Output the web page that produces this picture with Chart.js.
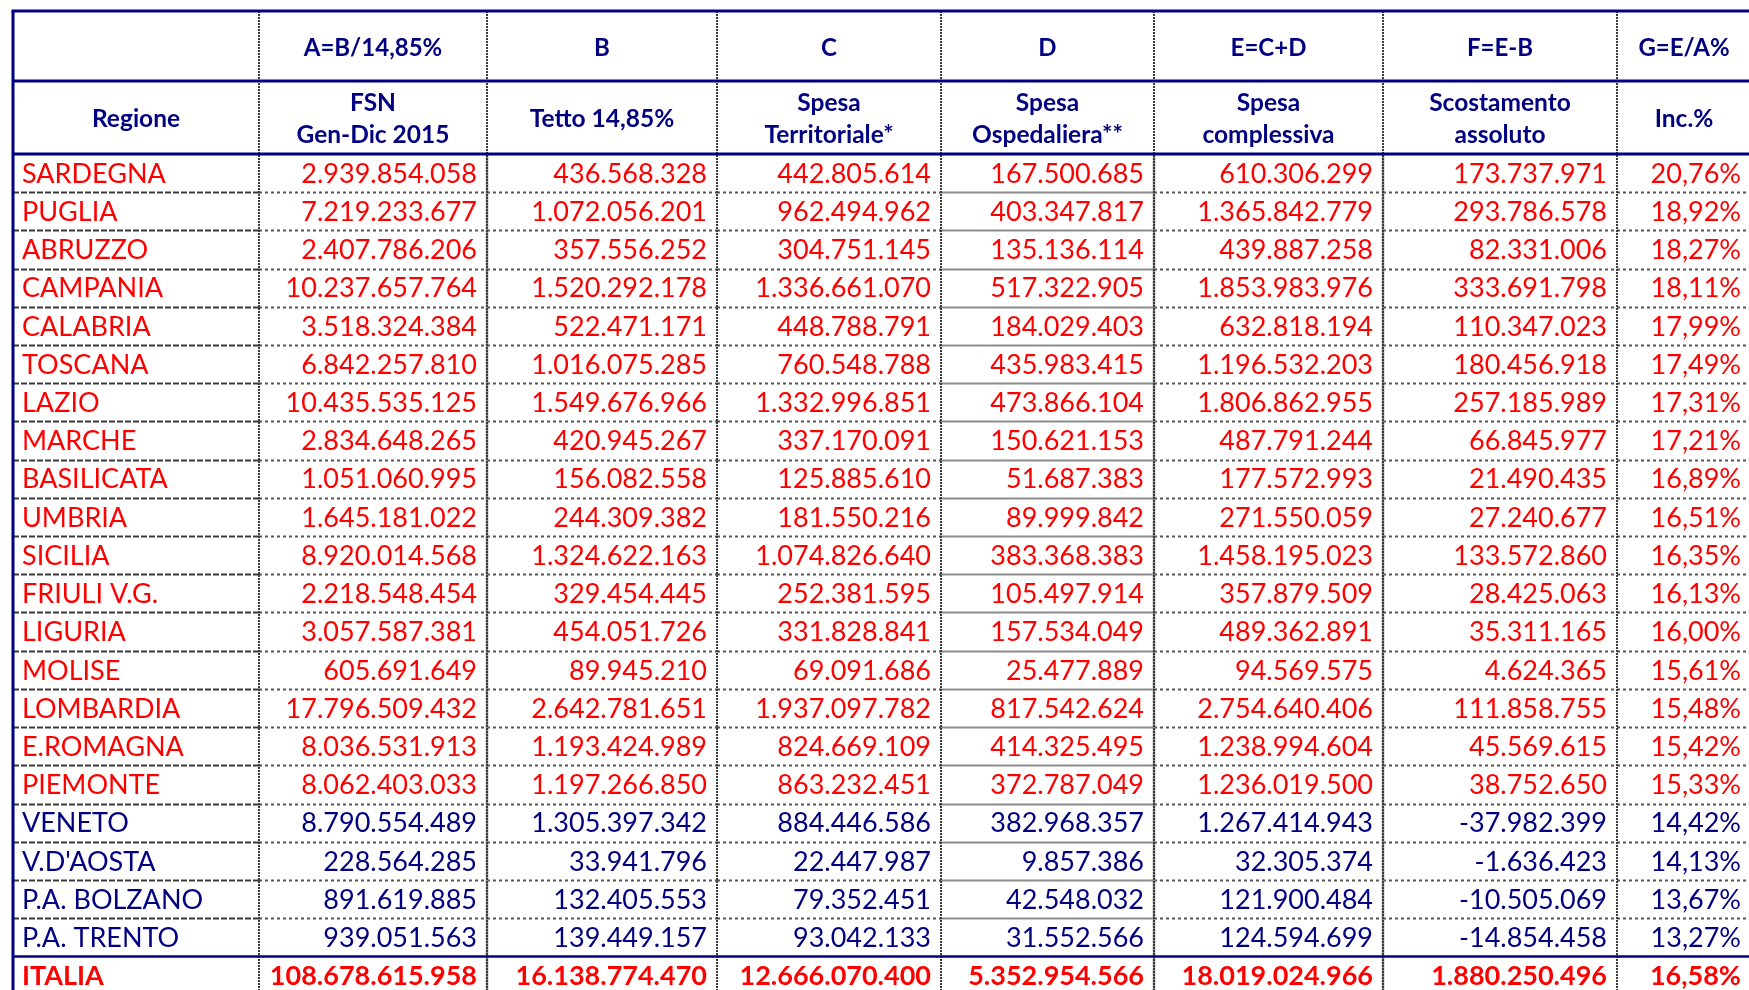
<!DOCTYPE html>
<html>
<head>
<meta charset="utf-8">
<script src="https://cdn.jsdelivr.net/npm/chart.js@4/dist/chart.umd.min.js"></script>
<style>
  body { margin: 0; background: #fff; }
  #wrap { width: 1749px; height: 990px; }
</style>
</head>
<body>
<div id="wrap"><canvas id="tabella" width="1749" height="990"></canvas></div>
<script>
// Spesa farmaceutica regionale - valori per regione (Gen-Dic 2015)

const regions = ['SARDEGNA', 'PUGLIA', 'ABRUZZO', 'CAMPANIA', 'CALABRIA', 'TOSCANA', 'LAZIO', 'MARCHE',
  'BASILICATA', 'UMBRIA', 'SICILIA', 'FRIULI V.G.', 'LIGURIA', 'MOLISE', 'LOMBARDIA', 'E.ROMAGNA',
  'PIEMONTE', 'VENETO', "V.D'AOSTA", 'P.A. BOLZANO', 'P.A. TRENTO', 'ITALIA'];

const fsn = [2939854058, 7219233677, 2407786206, 10237657764, 3518324384, 6842257810, 10435535125,
  2834648265, 1051060995, 1645181022, 8920014568, 2218548454, 3057587381, 605691649, 17796509432,
  8036531913, 8062403033, 8790554489, 228564285, 891619885, 939051563, 108678615958];

const tetto = [436568328, 1072056201, 357556252, 1520292178, 522471171, 1016075285, 1549676966,
  420945267, 156082558, 244309382, 1324622163, 329454445, 454051726, 89945210, 2642781651,
  1193424989, 1197266850, 1305397342, 33941796, 132405553, 139449157, 16138774470];

const spesaTerritoriale = [442805614, 962494962, 304751145, 1336661070, 448788791, 760548788, 1332996851,
  337170091, 125885610, 181550216, 1074826640, 252381595, 331828841, 69091686, 1937097782,
  824669109, 863232451, 884446586, 22447987, 79352451, 93042133, 12666070400];

const spesaOspedaliera = [167500685, 403347817, 135136114, 517322905, 184029403, 435983415, 473866104,
  150621153, 51687383, 89999842, 383368383, 105497914, 157534049, 25477889, 817542624,
  414325495, 372787049, 382968357, 9857386, 42548032, 31552566, 5352954566];

const spesaComplessiva = [610306299, 1365842779, 439887258, 1853983976, 632818194, 1196532203, 1806862955,
  487791244, 177572993, 271550059, 1458195023, 357879509, 489362891, 94569575, 2754640406,
  1238994604, 1236019500, 1267414943, 32305374, 121900484, 124594699, 18019024966];

const scostamento = [173737971, 293786578, 82331006, 333691798, 110347023, 180456918, 257185989,
  66845977, 21490435, 27240677, 133572860, 28425063, 35311165, 4624365, 111858755,
  45569615, 38752650, -37982399, -1636423, -10505069, -14854458, 1880250496];

const incidenza = [20.76, 18.92, 18.27, 18.11, 17.99, 17.49, 17.31, 17.21, 16.89, 16.51, 16.35,
  16.13, 16.00, 15.61, 15.48, 15.42, 15.33, 14.42, 14.13, 13.67, 13.27, 16.58];

const headerCodes = ['', 'A=B/14,85%', 'B', 'C', 'D', 'E=C+D', 'F=E-B', 'G=E/A%'];
const headerTitles = [['Regione'], ['FSN', 'Gen-Dic 2015'], ['Tetto 14,85%'], ['Spesa', 'Territoriale*'],
  ['Spesa', 'Ospedaliera**'], ['Spesa', 'complessiva'], ['Scostamento', 'assoluto'], ['Inc.%']];

// layout
const colEdges = [13, 259, 487, 717, 941, 1154, 1383, 1617, 1751];
const Y_MIN = -4.03, Y_MAX = 21.88;          // y axis in row units, row i spans [i, i+1]
const HEADER_TOP = -3.74, HEADER_MID = -1.91;
const NAVY = '#000080';
const RED = '#ff0000';
const FONT = 'Lato, "Liberation Sans", sans-serif';

function fmtNum(n) {
  const s = Math.abs(n).toString().replace(/\B(?=(\d{3})+(?!\d))/g, '.');
  return (n < 0 ? '-' : '') + s;
}
function fmtPct(p) {
  return p.toFixed(2).replace('.', ',') + '%';
}

const columns = [fsn, tetto, spesaTerritoriale, spesaOspedaliera, spesaComplessiva, scostamento, incidenza];

// one dataset per column; the region names sit at the left edge, numbers at the right edge
const datasets = [{
  label: 'Regione',
  data: regions.map((r, i) => ({ x: colEdges[0], y: i + 0.5 })),
  texts: regions,
  align: 'left',
  pointRadius: 0
}].concat(columns.map((vals, c) => ({
  label: headerCodes[c + 1],
  data: vals.map((v, i) => ({ x: colEdges[c + 2], y: i + 0.5 })),
  texts: vals.map(v => c === 6 ? fmtPct(v) : fmtNum(v)),
  align: 'right',
  pointRadius: 0
})));

function hLine(ctx, x1, x2, y, color, width, dash) {
  ctx.save();
  ctx.strokeStyle = color;
  ctx.lineWidth = width;
  ctx.setLineDash(dash || []);
  ctx.beginPath();
  ctx.moveTo(x1, y);
  ctx.lineTo(x2, y);
  ctx.stroke();
  ctx.restore();
}
function vLine(ctx, x, y1, y2, color, width, dash) {
  ctx.save();
  ctx.strokeStyle = color;
  ctx.lineWidth = width;
  ctx.setLineDash(dash || []);
  ctx.beginPath();
  ctx.moveTo(x, y1);
  ctx.lineTo(x, y2);
  ctx.stroke();
  ctx.restore();
}

const tablePlugin = {
  id: 'tablePlugin',
  beforeDatasetsDraw(chart) {
    const { ctx, scales: { x, y } } = chart;
    const right = chart.width;
    const top = y.getPixelForValue(HEADER_TOP);
    const mid = y.getPixelForValue(HEADER_MID);
    const head = y.getPixelForValue(0);
    const bottom = chart.height;
    const nRows = regions.length;

    // row separators inside the data block
    for (let k = 1; k < nRows - 1; k++) {
      const py = Math.round(y.getPixelForValue(k)) + 0.5;
      for (let c = 0; c < colEdges.length - 1; c++) {
        const x1 = x.getPixelForValue(colEdges[c]);
        const x2 = x.getPixelForValue(colEdges[c + 1]);
        if (c === 0) hLine(ctx, x1, x2, py, '#3a3a3a', 2, [6, 2]);
        else if (c === 4) hLine(ctx, x1, x2, py, '#8c8c8c', 2);
        else hLine(ctx, x1, x2, py, '#555', 2, [3, 3]);
      }
    }

    // vertical column lines
    for (let c = 1; c < colEdges.length - 1; c++) {
      const px = Math.round(x.getPixelForValue(colEdges[c]));
      if (c === 2 || c === 5 || c === 6) vLine(ctx, px, head, bottom, '#8c8c8c', 2.5);
      vLine(ctx, px, top, bottom, '#3a3a3a', 2, [2, 1]);
    }

    // navy frame and header rules
    const left = x.getPixelForValue(colEdges[0]);
    hLine(ctx, left - 1.5, right, top, NAVY, 3);
    hLine(ctx, left, right, mid, NAVY, 3);
    hLine(ctx, left, right, head, NAVY, 3);
    hLine(ctx, left, right, y.getPixelForValue(nRows - 1), NAVY, 2.5);
    vLine(ctx, left, top, bottom, NAVY, 3);
  },
  afterDatasetsDraw(chart) {
    const { ctx, scales: { x, y } } = chart;

    // header
    ctx.save();
    ctx.fillStyle = NAVY;
    ctx.textAlign = 'center';
    ctx.textBaseline = 'middle';
    const yCode = y.getPixelForValue((HEADER_TOP + HEADER_MID) / 2) + 2;
    const yTitle = y.getPixelForValue(HEADER_MID / 2) + 2;
    for (let c = 0; c < headerCodes.length; c++) {
      const cx = (x.getPixelForValue(colEdges[c]) + x.getPixelForValue(colEdges[c + 1])) / 2;
      ctx.font = 'bold 24px ' + FONT;
      ctx.fillText(headerCodes[c], cx, yCode);
      ctx.font = 'bold 24.5px ' + FONT;
      const lines = headerTitles[c];
      if (lines.length === 1) ctx.fillText(lines[0], cx, yTitle);
      else {
        ctx.fillText(lines[0], cx, yTitle - 16);
        ctx.fillText(lines[1], cx, yTitle + 16);
      }
    }
    ctx.restore();

    // cells, read from each dataset's point positions
    const last = regions.length - 1;
    chart.data.datasets.forEach((ds, d) => {
      const meta = chart.getDatasetMeta(d);
      meta.data.forEach((pt, i) => {
        ctx.save();
        ctx.fillStyle = scostamento[i] > 0 ? RED : NAVY;
        ctx.font = (i === last ? 'bold ' : '') + '27px ' + FONT;
        ctx.textAlign = ds.align;
        ctx.textBaseline = 'middle';
        const tx = ds.align === 'left' ? pt.x + 9 : pt.x - 10;
        ctx.fillText(ds.texts[i], tx, pt.y + 1);
        ctx.restore();
      });
    });
  }
};

new Chart(document.getElementById('tabella'), {
  type: 'scatter',
  data: { datasets: datasets },
  options: {
    responsive: false,
    devicePixelRatio: 1,
    animation: false,
    events: [],
    layout: { padding: 0 },
    plugins: { legend: { display: false }, tooltip: { enabled: false } },
    scales: {
      x: { type: 'linear', min: 0, max: 1749, display: false },
      y: { type: 'linear', min: Y_MIN, max: Y_MAX, reverse: true, display: false }
    }
  },
  plugins: [tablePlugin]
});
</script>
</body>
</html>
